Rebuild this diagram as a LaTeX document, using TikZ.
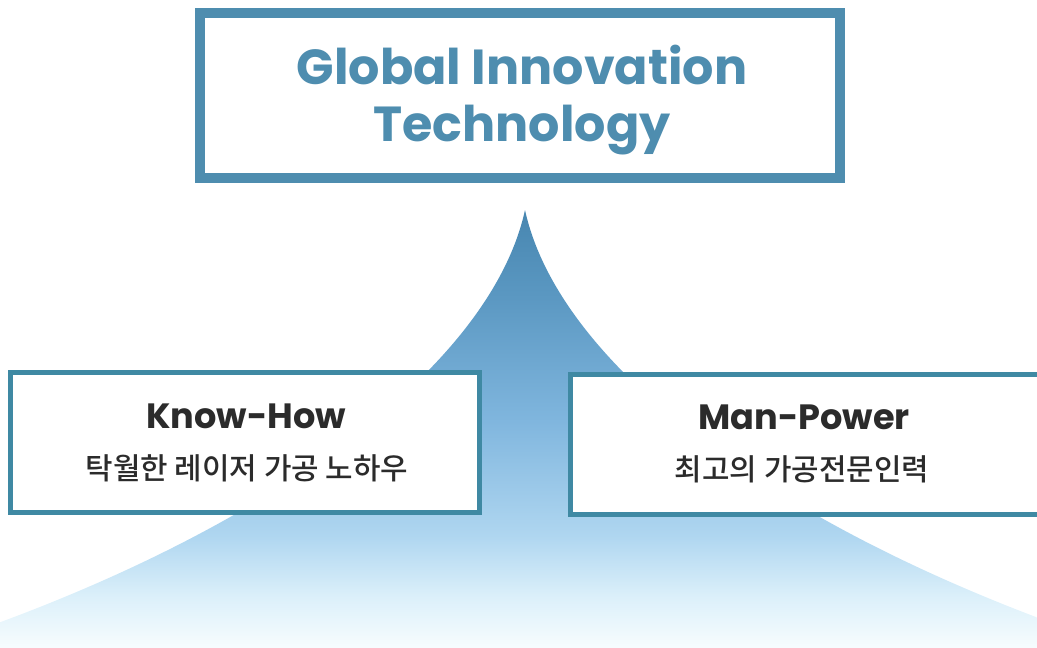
\documentclass[tikz,border=0pt]{standalone}
\usepackage{fontspec}
\setmainfont{Poppins}
\newfontfamily\kr{Noto Sans CJK KR}[BoldFont=Noto Sans CJK KR Medium]
\definecolor{topblue}{HTML}{4E8DAF}
\definecolor{boxteal}{HTML}{3F89A3}
\definecolor{txtdark}{HTML}{2B2B2B}
\definecolor{spiketop}{HTML}{4786B0}
\definecolor{spikeupper}{HTML}{5B98C2}
\definecolor{spikemid}{HTML}{80B6DE}
\definecolor{spikesky}{HTML}{AFD6F0}
\definecolor{spikepale}{HTML}{DCF0FA}
\definecolor{spikelow}{HTML}{F8FDFE}
\pgfdeclareverticalshading{spikeshade}{100bp}{color(0bp)=(spikelow); color(25bp)=(spikelow); color(31bp)=(spikepale); color(38bp)=(spikesky); color(51bp)=(spikemid); color(65bp)=(spikeupper); color(75bp)=(spiketop); color(100bp)=(spiketop)}
\tikzset{
  topbox/.style={draw=topblue, line width=0.2cm, fill=white, minimum width=12.8cm, minimum height=3.3cm},
  sidebox/.style={draw=boxteal, line width=0.1cm, fill=white, minimum width=9.38cm, minimum height=2.8cm},
  title/.style={font=\bfseries\fontsize{20}{24}\selectfont, text=txtdark},
  subtitle/.style={font=\kr\bfseries\fontsize{17}{20}\selectfont, text=txtdark}
}

\begin{document}
\begin{tikzpicture}[x=0.02cm, y=-0.02cm]
			%%%%% START %%%%%
			\useasboundingbox (0, 0) rectangle (1037, 647);
			\clip (0, 0) rectangle (1037, 647);
			
			% spike
			\shade[shading=spikeshade]
			  (525, 210) .. controls (490, 370) and (260, 540) .. (-80, 650)
			  -- (1130, 650) .. controls (790, 540) and (560, 370) .. (525, 210) -- cycle;
			
			% top box
			\node[topbox] (top) at (520, 95.5) {};
			\node[font=\bfseries\fontsize{28}{30}\selectfont, text=topblue, align=center] (toptext) at (522, 100) {Global Innovation\\[0.1cm]Technology};
			
			% side boxes
			\node[sidebox] (knowhow) at (245, 442.5) {};
			\node[title] (knowhowtitle) at (246, 416) {Know-How};
			\node[subtitle] (knowhowsub) at (247, 468) {탁월한 레이저 가공 노하우};
			
			\node[sidebox, minimum width=9.58cm] (manpower) at (810, 444.5) {};
			\node[title] (manpowertitle) at (804, 417) {Man-Power};
			\node[subtitle] (manpowersub) at (802, 469) {최고의 가공전문인력};
			
			%%%%% END %%%%%
		\end{tikzpicture}
\end{document}
